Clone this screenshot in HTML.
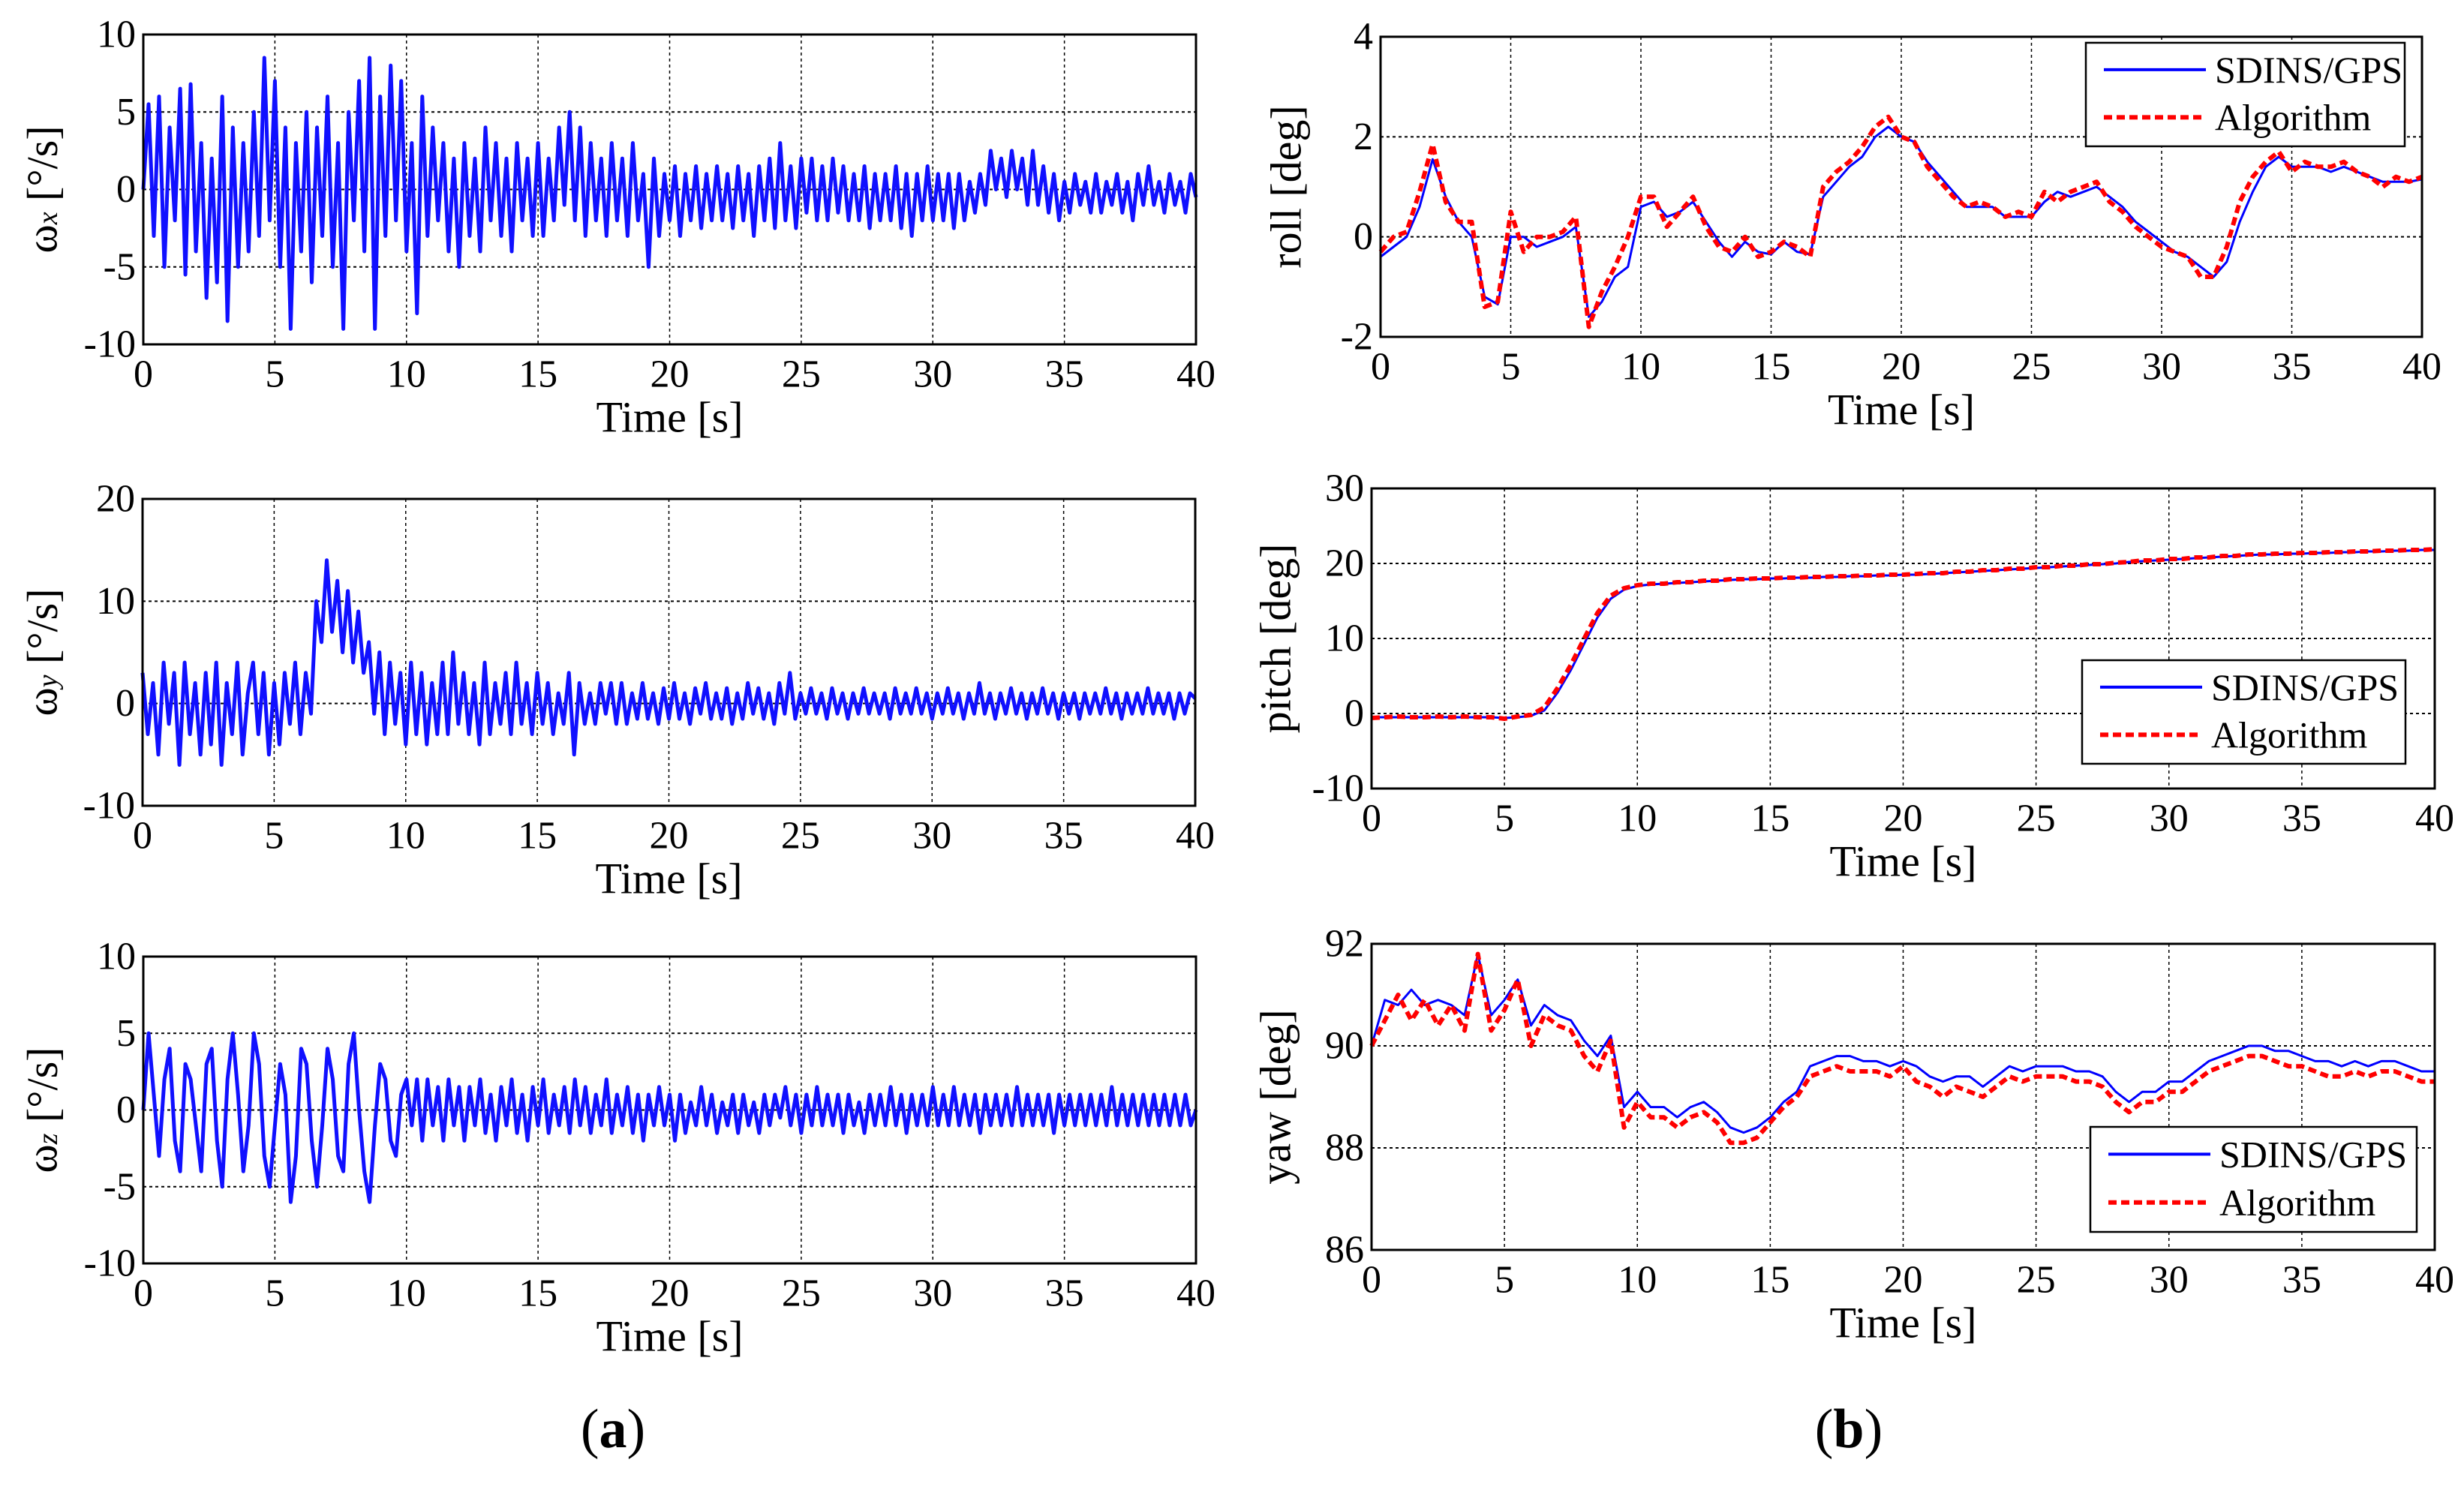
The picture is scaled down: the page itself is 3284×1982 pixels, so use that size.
<!DOCTYPE html>
<html><head><meta charset="utf-8"><title>Gyro and attitude plots</title>
<style>
html,body{margin:0;padding:0;background:#fff;}
svg{display:block;}
text{font-family:"Liberation Serif",serif;fill:#000;}
</style></head>
<body>
<svg id="fig" width="3284" height="1982" viewBox="0 0 3284 1982" xmlns="http://www.w3.org/2000/svg"></svg>
<script>
// ---------- data ----------
const xTicks = [0,5,10,15,20,25,30,35,40];
const gyroStep = 0.2;
const wxValues = [0,5.5,-3,6,-5,4,-2,6.5,-5.5,6.8,-4,
3,-7,2,-6,6,-8.5,4,-5,3,-4,
5,-3,8.5,-2,7,-5,4,-9,3,-4,
5,-6,4,-3,6,-5,3,-9,5,-2,
7,-4,8.5,-9,6,-3,8,-2,7,-4,
3,-8,6,-3,4,-2,3,-4,2,-5,
3,-3,2,-4,4,-2,3,-3,2,-4,
3,-2,2,-3,3,-3,2,-2,4,-1,
5,-2,4,-3,3,-2,2,-3,3,-2,
2,-3,3,-2,1,-5,2,-3,1,-2,
1.5,-3,1,-2,1.5,-2.5,1,-2,1.5,-2,
1,-2.5,1.5,-2,1,-3,1.5,-2,2,-2.5,
3,-2,1.5,-2.5,2,-1.5,2,-2,1.5,-2,
2,-1.5,1.5,-2,1,-2,1.5,-2.5,1,-2,
1,-2,1.5,-2.5,1,-3,1,-2,1.5,-2,
1,-2,1,-2.5,1,-2,0.5,-1.5,1,-1,
2.5,0,2,-0.5,2.5,0,2,-1,2.5,-1,
1.5,-1.5,1,-2,0.5,-1.5,1,-1,0.5,-1.5,
1,-1.5,0.5,-1,1,-1.5,0.5,-2,1,-1,
1.5,-1,0.5,-1.5,1,-1,0.5,-1.5,1,-0.5];
const wyValues = [3,-3,2,-5,4,-2,3,-6,4,-3,2,
-5,3,-4,4,-6,2,-3,4,-5,1,
4,-3,3,-5,2,-4,3,-2,4,-3,
3,-1,10,6,14,7,12,5,11,4,
9,3,6,-1,5,-3,4,-2,3,-4,
4,-3,3,-4,2,-3,4,-3,5,-2,
3,-3,2,-4,4,-3,2,-2,3,-3,
4,-2,2,-3,3,-2,2,-3,1,-2,
3,-5,2,-2,1,-2,2,-1,2,-2,
2,-2,1,-1.5,2,-1.5,1,-2,1.5,-1.5,
2,-1.5,1,-2,1.5,-1,2,-1.5,1,-1.5,
1.5,-2,1,-1.5,2,-1,1.5,-1.5,1,-2,
2,-1,3,-1.5,1,-1,1.5,-1,1,-1.5,
1.5,-1,1,-1.5,1,-1,1.5,-1,1,-1,
1,-1.5,1.5,-1,1,-1,1.5,-1,1,-1.5,
1,-1,1.5,-1,1,-1.5,1,-1,2,-1,
1,-1.5,1,-1,1.5,-1,1,-1.5,1,-1,
1.5,-1,1,-1.5,1,-1,1,-1.5,1,-1,
1,-1,1.5,-1,1,-1.5,1,-1,1,-1,
1.5,-1,1,-1,1,-1.5,1,-1,1,0.5];
const wzValues = [0,5,1,-3,2,4,-2,-4,3,2,-1,
-4,3,4,-2,-5,2,5,1,-4,-1,
5,3,-3,-5,-1,3,1,-6,-3,4,
3,-2,-5,-1,4,2,-3,-4,3,5,
0,-4,-6,-1,3,2,-2,-3,1,2,
-1,2,-2,2,-1,1.5,-2,2,-1,1.5,
-2,1.5,-1,2,-1.5,1,-2,1.5,-1,2,
-1.5,1,-2,1.5,-1,2,-1.5,1,-1,1.5,
-1.5,2,-1,1.5,-1.5,1,-1,2,-1.5,1,
-1,1.5,-1.5,1,-2,1,-1,1.5,-1,1,
-2,1,-1.5,0.5,-1,1.5,-1,1,-1.5,0.5,
-1,1,-1.5,1,-1,0.5,-1.5,1,-1,1,
-0.5,1.5,-1,1,-1.5,1,-1,1.5,-1,1,
-1,1,-1.5,1,-1,0.5,-1.5,1,-1,1,
-1,1.5,-1,1,-1.5,1,-1,1,-1,1.5,
-1,1,-1,1.5,-1,1,-1,1,-1.5,1,
-1,1,-1,1,-1,1.5,-1,1,-1,1,
-1,1,-1.5,1,-1,1,-1,1,-1,1,
-1,1,-1,1.5,-1,1,-1,1,-1,1,
-1,1,-1,1,-1,1,-1,1,-1,0];

const attStep = 0.5;
const rollGps = [-0.4,-0.2,0.0,0.6,1.55,0.8,0.3,0.0,-1.2,-1.35,0.0,0.0,-0.2,-0.1,0.0,0.2,-1.6,-1.3,-0.8,-0.6,0.6,0.7,0.4,0.5,0.7,0.3,-0.1,-0.4,-0.1,-0.3,-0.35,-0.1,-0.3,-0.35,0.8,1.1,1.4,1.6,2.0,2.2,2.0,1.9,1.5,1.2,0.9,0.6,0.6,0.6,0.4,0.4,0.4,0.7,0.9,0.8,0.9,1.0,0.8,0.6,0.3,0.1,-0.1,-0.3,-0.4,-0.6,-0.8,-0.5,0.3,0.9,1.4,1.6,1.4,1.4,1.4,1.3,1.4,1.3,1.2,1.1,1.1,1.1,1.15];
const rollAlg = [-0.3,0.0,0.1,0.9,1.85,0.7,0.3,0.3,-1.4,-1.3,0.5,-0.3,0.0,0.0,0.1,0.4,-1.8,-1.1,-0.6,0.0,0.8,0.8,0.2,0.5,0.8,0.2,-0.2,-0.3,0.0,-0.4,-0.3,-0.1,-0.2,-0.4,1.0,1.3,1.5,1.8,2.2,2.4,2.0,1.9,1.4,1.1,0.8,0.6,0.7,0.6,0.4,0.5,0.4,0.9,0.7,0.9,1.0,1.1,0.7,0.5,0.2,0.0,-0.2,-0.3,-0.4,-0.8,-0.8,-0.2,0.7,1.2,1.5,1.7,1.3,1.5,1.4,1.4,1.5,1.3,1.2,1.0,1.2,1.1,1.2];
const pitchGps = [-0.5,-0.5,-0.5,-0.5,-0.5,-0.5,-0.5,-0.5,-0.5,-0.5,-0.6,-0.5,-0.3,0.4,2.8,5.8,9.3,12.8,15.3,16.5,17.0,17.2,17.3,17.4,17.5,17.6,17.7,17.8,17.9,17.9,18.0,18.0,18.1,18.1,18.2,18.2,18.3,18.3,18.4,18.4,18.5,18.5,18.6,18.7,18.8,18.9,19.0,19.1,19.2,19.3,19.4,19.5,19.6,19.7,19.8,19.9,20.0,20.2,20.3,20.4,20.5,20.6,20.7,20.8,20.9,21.0,21.1,21.2,21.2,21.3,21.3,21.4,21.4,21.5,21.5,21.6,21.6,21.7,21.7,21.8,21.8];
const pitchAlg = [-0.6,-0.5,-0.4,-0.5,-0.5,-0.4,-0.5,-0.4,-0.5,-0.5,-0.7,-0.4,-0.2,0.8,3.4,6.5,10.0,13.4,15.7,16.7,17.1,17.3,17.3,17.5,17.5,17.7,17.7,17.9,17.9,18.0,18.0,18.1,18.1,18.2,18.2,18.3,18.3,18.4,18.4,18.5,18.5,18.6,18.7,18.7,18.9,18.9,19.1,19.1,19.3,19.3,19.5,19.5,19.7,19.7,19.9,19.9,20.1,20.2,20.4,20.4,20.6,20.6,20.8,20.8,21.0,21.0,21.2,21.2,21.3,21.3,21.4,21.4,21.5,21.5,21.6,21.6,21.7,21.7,21.8,21.8,21.9];
const yawGps = [90.0,90.9,90.8,91.1,90.8,90.9,90.8,90.6,91.8,90.6,90.9,91.3,90.4,90.8,90.6,90.5,90.1,89.8,90.2,88.8,89.1,88.8,88.8,88.6,88.8,88.9,88.7,88.4,88.3,88.4,88.6,88.9,89.1,89.6,89.7,89.8,89.8,89.7,89.7,89.6,89.7,89.6,89.4,89.3,89.4,89.4,89.2,89.4,89.6,89.5,89.6,89.6,89.6,89.5,89.5,89.4,89.1,88.9,89.1,89.1,89.3,89.3,89.5,89.7,89.8,89.9,90.0,90.0,89.9,89.9,89.8,89.7,89.7,89.6,89.7,89.6,89.7,89.7,89.6,89.5,89.5];
const yawAlg = [90.0,90.5,91.0,90.5,90.9,90.4,90.8,90.3,91.8,90.3,90.7,91.3,90.0,90.6,90.4,90.3,89.8,89.5,90.1,88.4,88.9,88.6,88.6,88.4,88.6,88.7,88.5,88.1,88.1,88.2,88.5,88.8,89.0,89.4,89.5,89.6,89.5,89.5,89.5,89.4,89.6,89.3,89.2,89.0,89.2,89.1,89.0,89.2,89.4,89.3,89.4,89.4,89.4,89.3,89.3,89.2,88.9,88.7,88.9,88.9,89.1,89.1,89.3,89.5,89.6,89.7,89.8,89.8,89.7,89.6,89.6,89.5,89.4,89.4,89.5,89.4,89.5,89.5,89.4,89.3,89.3];

const ticksWx = [-10,-5,0,5,10];
const ticksWy = [-10,0,10,20];
const ticksWz = [-10,-5,0,5,10];
const ticksRoll = [-2,0,2,4];
const ticksPitch = [-10,0,10,20,30];
const ticksYaw = [86,88,90,92];
const legendLabels = ["SDINS/GPS","Algorithm"];

// ---------- drawing ----------
const NS = "http://www.w3.org/2000/svg";
const svg = document.getElementById("fig");
function mk(tag, attrs, parent) {
  const e = document.createElementNS(NS, tag);
  for (const k in attrs) e.setAttribute(k, attrs[k]);
  (parent || svg).appendChild(e);
  return e;
}
function tx(parent, x, y, str, size, anchor) {
  const t = mk("text", {x:x, y:y, "font-size":size, "text-anchor":anchor||"middle", "dominant-baseline":"central"}, parent);
  t.textContent = str;
  return t;
}

function chart(c) {
  const g = mk("g", {});
  
  
  const L=c.box[0], R=c.box[1], T=c.box[2], B=c.box[3];
  const ymin=c.yTicks[0], ymax=c.yTicks[c.yTicks.length-1];
  const xs = v => L + (v-0)/(40-0)*(R-L);
  const ys = v => B - (v-ymin)/(ymax-ymin)*(B-T);
  const grid = mk("g", {stroke:"#000", "stroke-width":2, "stroke-dasharray":"4,4"}, g);
  
  
  xTicks.slice(1,-1).forEach(v => mk("line", {x1:xs(v), x2:xs(v), y1:T, y2:B, "stroke-width":1.5}, grid));
  c.yTicks.slice(1,-1).forEach(v => mk("line", {x1:L, x2:R, y1:ys(v), y2:ys(v)}, grid));
  c.series.forEach(s => {
    let d = "";
    s.values.forEach((v,i) => { d += (i?"L":"M") + xs(i*s.step).toFixed(1) + "," + ys(v).toFixed(1); });
    const p = mk("path", {d:d, fill:"none", stroke:s.color, "stroke-width":s.width, "stroke-linejoin":"round"}, g);
    if (s.dash) p.setAttribute("stroke-dasharray", s.dash);
    
    
  });
  const fr = mk("rect", {x:L, y:T, width:R-L, height:B-T, fill:"none", stroke:"#000", "stroke-width":3}, g);
  
  
  xTicks.forEach(v => {
    const t = tx(g, xs(v), B+40, String(v), 52);
    
    
  });
  c.yTicks.forEach(v => {
    const t = tx(g, L-10, ys(v), String(v), 52, "end");
    
    
  });
  const xt = tx(g, (L+R)/2, B+97, "Time [s]", 58);
  
  
  const yl = mk("text", {x:0, y:0, "font-size":58, "text-anchor":"middle", "dominant-baseline":"central", transform:"translate("+c.ylx+","+((T+B)/2)+") rotate(-90)"}, g);
  yl.innerHTML = c.ylabel;
  
  
  if (c.legend) {
    const lg = mk("g", {}, g);
    
    
    const b = c.legend;
    mk("rect", {x:b[0], y:b[2], width:b[1]-b[0], height:b[3]-b[2], fill:"#fff", stroke:"#000", "stroke-width":2.5}, lg);
    const y1 = b[2]+(b[3]-b[2])*0.26, y2 = b[2]+(b[3]-b[2])*0.72;
    mk("line", {x1:b[0]+24, x2:b[0]+160, y1:y1, y2:y1, stroke:"#0000ff", "stroke-width":4}, lg);
    mk("line", {x1:b[0]+24, x2:b[0]+160, y1:y2, y2:y2, stroke:"#ff0000", "stroke-width":6, "stroke-dasharray":"11,6"}, lg);
    const e1 = tx(lg, b[0]+172, y1, legendLabels[0], 50, "start");
    
    
    const e2 = tx(lg, b[0]+172, y2, legendLabels[1], 50, "start");
    
    
  }
}

const gyroLabel = (sub) => '\u03c9<tspan font-size="38" font-style="italic" dy="8">' + sub + '</tspan><tspan dy="-8"> [\u00b0/s]</tspan>';
chart({name:"wx-chart", box:[191,1594,46,459], yTicks:ticksWx, ylx:56, ylabel:gyroLabel("x"),
  series:[{name:"wx-series", values:wxValues, step:gyroStep, color:"#1010ff", width:5}]});
chart({name:"wy-chart", box:[190,1593,665,1074], yTicks:ticksWy, ylx:56, ylabel:gyroLabel("y"),
  series:[{name:"wy-series", values:wyValues, step:gyroStep, color:"#1010ff", width:5}]});
chart({name:"wz-chart", box:[191,1594,1275,1684], yTicks:ticksWz, ylx:56, ylabel:gyroLabel("z"),
  series:[{name:"wz-series", values:wzValues, step:gyroStep, color:"#1010ff", width:5}]});
chart({name:"roll-chart", box:[1840,3228,49,449], yTicks:ticksRoll, ylx:1714, ylabel:"roll [deg]", legend:[2780,3205,57,195],
  series:[{name:"roll-sdins-gps", values:rollGps, step:attStep, color:"#0000ff", width:3},
          {name:"roll-algorithm", values:rollAlg, step:attStep, color:"#ff0000", width:6, dash:"11,6"}]});
chart({name:"pitch-chart", box:[1828,3245,651,1051], yTicks:ticksPitch, ylx:1700, ylabel:"pitch [deg]", legend:[2775,3206,880,1018],
  series:[{name:"pitch-sdins-gps", values:pitchGps, step:attStep, color:"#0000ff", width:3},
          {name:"pitch-algorithm", values:pitchAlg, step:attStep, color:"#ff0000", width:6, dash:"11,6"}]});
chart({name:"yaw-chart", box:[1828,3245,1258,1666], yTicks:ticksYaw, ylx:1700, ylabel:"yaw [deg]", legend:[2786,3221,1502,1642],
  series:[{name:"yaw-sdins-gps", values:yawGps, step:attStep, color:"#0000ff", width:3},
          {name:"yaw-algorithm", values:yawAlg, step:attStep, color:"#ff0000", width:6, dash:"11,6"}]});

const pa = mk("text", {x:817, y:1905, "font-size":74, "text-anchor":"middle", "dominant-baseline":"central"});
pa.innerHTML = '(<tspan font-weight="bold">a</tspan>)';


const pb = mk("text", {x:2464, y:1905, "font-size":74, "text-anchor":"middle", "dominant-baseline":"central"});
pb.innerHTML = '(<tspan font-weight="bold">b</tspan>)';


</script>
</body></html>
